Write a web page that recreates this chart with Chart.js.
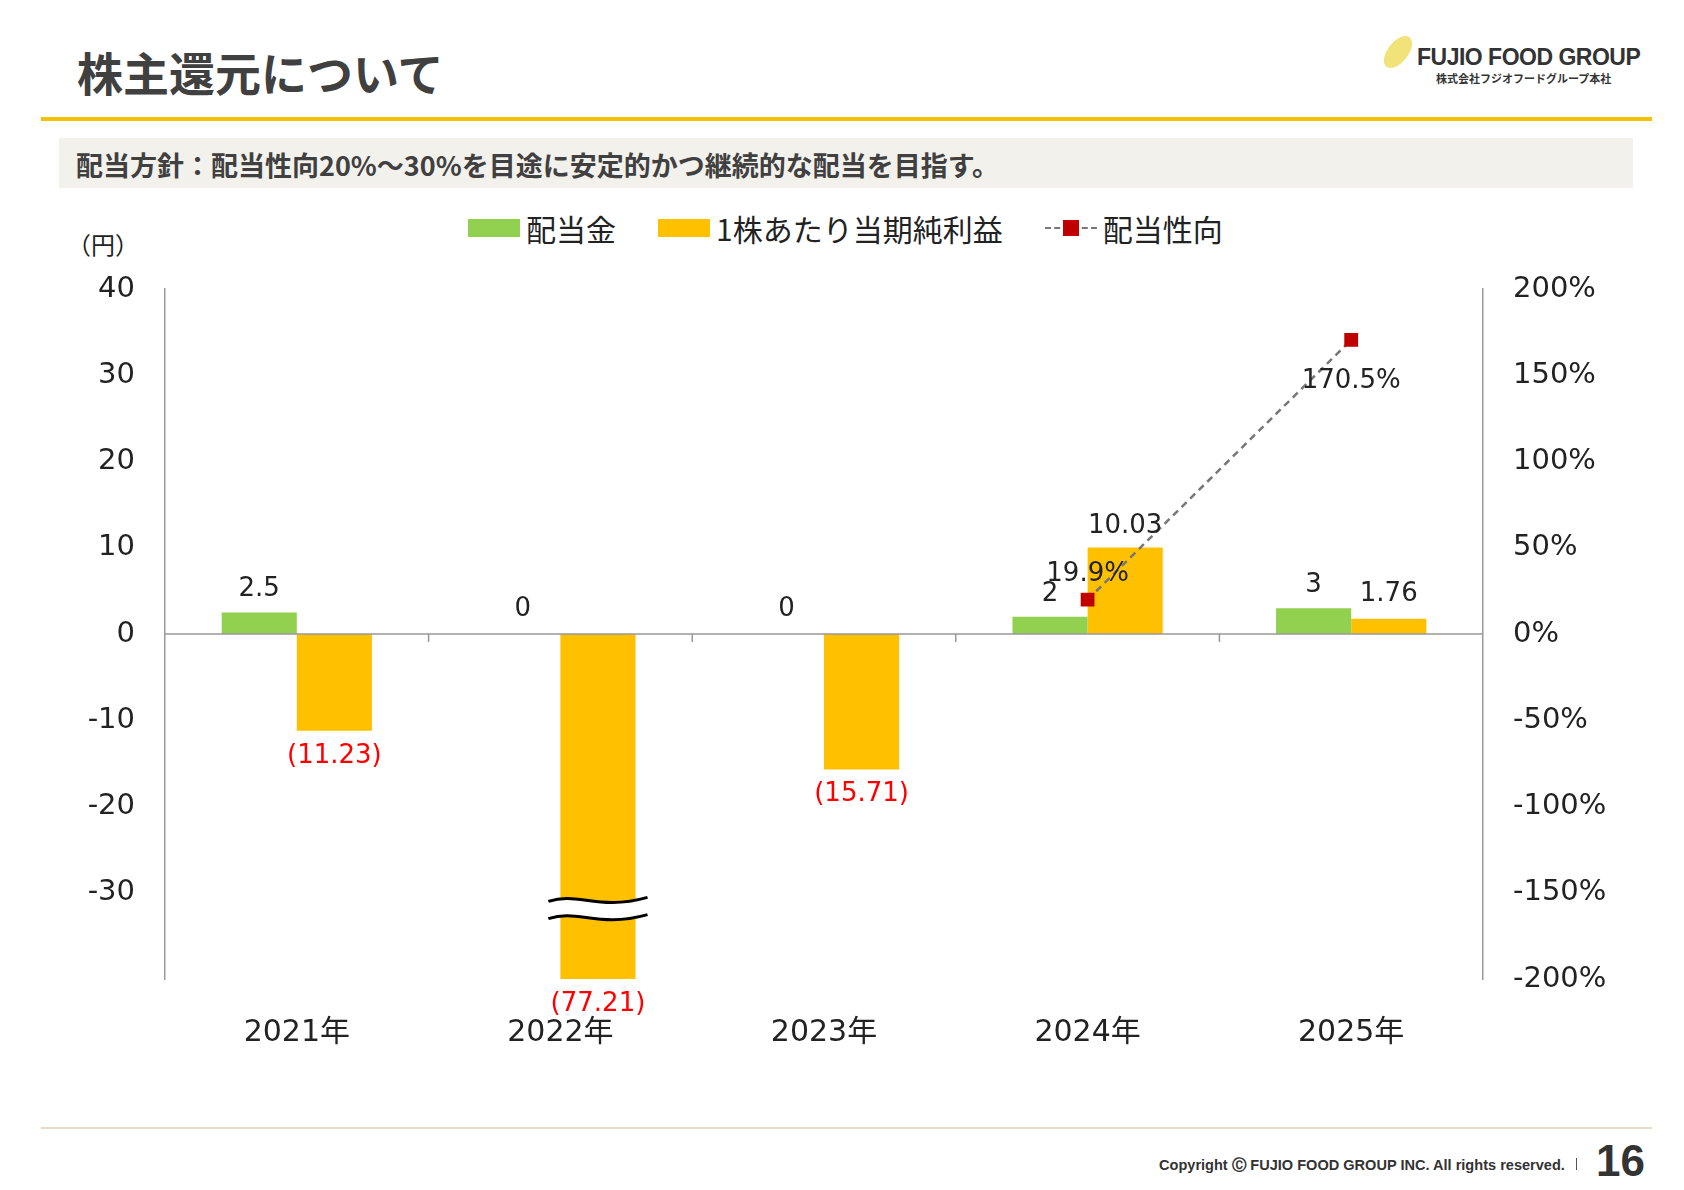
<!DOCTYPE html>
<html><head><meta charset="utf-8">
<script src="https://cdn.jsdelivr.net/npm/chart.js@4"></script>
<style>
body{margin:0;width:1684px;height:1190px;background:#fff;font-family:"Noto Sans CJK JP",sans-serif;position:relative;overflow:hidden}
.abs{position:absolute}
</style></head><body>
<div class="abs" style="left:77px;top:38px;font-size:46px;font-weight:bold;color:#404040">株主還元について</div>
<div class="abs" style="left:1386px;top:36px;width:24px;height:32px;border-radius:50%;background:#f2e27a;transform:skewX(-25deg)"></div>
<div class="abs" style="left:1417px;top:44px;font-family:'Liberation Sans';font-weight:bold;font-size:23px;color:#333;letter-spacing:-0.5px">FUJIO FOOD GROUP</div>
<div class="abs" style="left:1436px;top:70px;font-size:11px;font-weight:bold;color:#333">株式会社フジオフードグループ本社</div>
<div class="abs" style="left:41px;top:117px;width:1611px;height:4px;background:#F5C000"></div>
<div class="abs" style="left:59px;top:138px;width:1574px;height:50px;background:#F3F1EC"></div>
<div class="abs" style="left:76px;top:145px;font-size:27px;font-weight:bold;color:#404040">配当方針：配当性向20%～30%を目途に安定的かつ継続的な配当を目指す。</div>
<div class="abs" style="left:67px;top:226px;font-size:24px;color:#222">（円）</div>
<div class="abs" style="left:468px;top:206px;font-size:30px;color:#222;display:flex;align-items:center;white-space:nowrap">
 <span style="display:inline-block;width:52px;height:18px;background:#92D050;margin-right:6px"></span>配当金
 <span style="display:inline-block;width:52px;height:18px;background:#FFC000;margin:0 6px 0 42px"></span>1株あたり当期純利益
 <span style="display:inline-block;width:52px;height:16px;margin:0 6px 0 42px;position:relative"><span style="position:absolute;left:0;right:0;top:7px;border-top:2px dashed #777"></span><span style="position:absolute;left:18px;top:0;width:16px;height:16px;background:#C00000"></span></span>配当性向
</div>
<div class="abs" style="left:0;top:188px;width:1684px;height:900px"><canvas id="c" width="1684" height="900" style="width:1684px;height:900px"></canvas></div>
<div class="abs" style="left:41px;top:1127px;width:1611px;height:2px;background:#E6DCC8"></div>
<div class="abs" style="left:1159px;top:1156px;font-family:'Liberation Sans Narrow','Liberation Sans';font-size:15px;font-weight:bold;color:#333;transform:scaleX(0.97);transform-origin:left;white-space:nowrap">Copyright Ⓒ FUJIO FOOD GROUP INC. All rights reserved.</div>
<div class="abs" style="left:1576px;top:1158px;width:1px;height:12px;background:#555"></div>
<div class="abs" style="left:1596px;top:1136px;font-family:'Liberation Sans';font-size:44px;font-weight:bold;color:#333">16</div>
<script>
const categories=["2021年","2022年","2023年","2024年","2025年"];
const dividend=[2.5,0,0,2,3];
const eps=[-11.23,-77.21,-15.71,10.03,1.76];
const payout=[null,null,null,19.9,170.5];
const leftTicks=[40,30,20,10,0,-10,-20,-30];
const FONT="'DejaVu Sans','Noto Sans CJK JP'";
const fmt=v=>v<0?"("+Math.abs(v).toFixed(2)+")":String(v);
const deco={id:'deco',
 afterDatasetsDraw(ch){
  const c=ch.ctx,y=ch.scales.y,a=ch.chartArea;
  const y0=y.getPixelForValue(0);
  c.save();c.strokeStyle='#999';c.lineWidth=1.5;
  c.beginPath();c.moveTo(a.left,y0);c.lineTo(a.right,y0);c.stroke();
  const w=(a.right-a.left)/categories.length;
  for(let i=1;i<categories.length;i++){c.beginPath();c.moveTo(a.left+i*w,y0);c.lineTo(a.left+i*w,y0+8);c.stroke();}
  const m1=ch.getDatasetMeta(2).data[1];
  const bx0=m1.x-m1.width/2-12,bx1=m1.x+m1.width/2+12;
  const ya=y.getPixelForValue(-31),yb=y.getPixelForValue(-33);
  const wave=(yy)=>{c.moveTo(bx0,yy);c.bezierCurveTo(bx0+30,yy-10,bx1-50,yy+10,bx1,yy-4);};
  c.fillStyle='#fff';c.beginPath();wave(ya);c.lineTo(bx1,yb-4);c.bezierCurveTo(bx1-50,yb+10,bx0+30,yb-10,bx0,yb);c.closePath();c.fill();
  c.strokeStyle='#000';c.lineWidth=3;c.beginPath();wave(ya);c.stroke();c.beginPath();wave(yb);c.stroke();
  c.font="26px "+FONT;c.textAlign='center';
  ch.getDatasetMeta(1).data.forEach((b,i)=>{c.fillStyle='#222';c.textBaseline='bottom';
    c.fillText(fmt(dividend[i]),b.x,Math.min(b.y,y0)-(dividend[i]===0?12:10));});
  ch.getDatasetMeta(2).data.forEach((b,i)=>{const v=eps[i];
    if(v<0){c.fillStyle='#FF0000';c.textBaseline='top';c.fillText(fmt(v),b.x,Math.min(b.y,a.bottom)+12);}
    else{c.fillStyle='#222';c.textBaseline='bottom';c.fillText(fmt(v),b.x,b.y-(i===4?12:8));}});
  ch.getDatasetMeta(0).data.forEach((p,i)=>{if(payout[i]==null)return;c.fillStyle='#222';
    if(i===3){c.textBaseline='bottom';c.fillText(payout[i]+'%',p.x,p.y-12);}else{c.textBaseline='top';c.fillText(payout[i]+'%',p.x,p.y+28);}});
  c.restore();
 }};
new Chart(document.getElementById('c'),{
 data:{labels:categories,datasets:[
  {type:'line',label:'配当性向',data:payout,yAxisID:'y1',borderColor:'#777',borderDash:[7,5],borderWidth:2.5,pointStyle:'rect',pointRadius:8,pointBackgroundColor:'#C00000',pointBorderColor:'#C00000',spanGaps:true,order:0},
  {type:'bar',label:'配当金',data:dividend,yAxisID:'y',backgroundColor:'#92D050',categoryPercentage:0.57,barPercentage:1,order:1},
  {type:'bar',label:'1株あたり当期純利益',data:eps,yAxisID:'y',backgroundColor:'#FFC000',categoryPercentage:0.57,barPercentage:1,order:2}
 ]},
 options:{responsive:false,animation:false,devicePixelRatio:1,
  layout:{padding:{top:101,left:0,right:0,bottom:0}},
  plugins:{legend:{display:false},tooltip:{enabled:false}},
  scales:{
   x:{grid:{display:false,drawTicks:false},border:{display:false},ticks:{font:{size:30,family:FONT},color:'#222',padding:36},afterFit(s){s.height=109;}},
   y:{position:'left',min:-40,max:40,afterBuildTicks(s){s.ticks=leftTicks.map(v=>({value:v}));},grid:{display:false,tickLength:8,color:'#999'},border:{display:true,color:'#999',width:1.5},
      ticks:{font:{size:29,family:FONT},color:'#222',padding:22},afterFit(s){s.width=165;}},
   y1:{position:'right',min:-200,max:200,ticks:{stepSize:50,callback:v=>v+'%',font:{size:29,family:FONT},color:'#222',padding:22},grid:{display:false,tickLength:8,color:'#999'},border:{display:true,color:'#999',width:1.5},afterFit(s){s.width=201;}}
  }},
 plugins:[deco]
});
</script>
</body></html>
